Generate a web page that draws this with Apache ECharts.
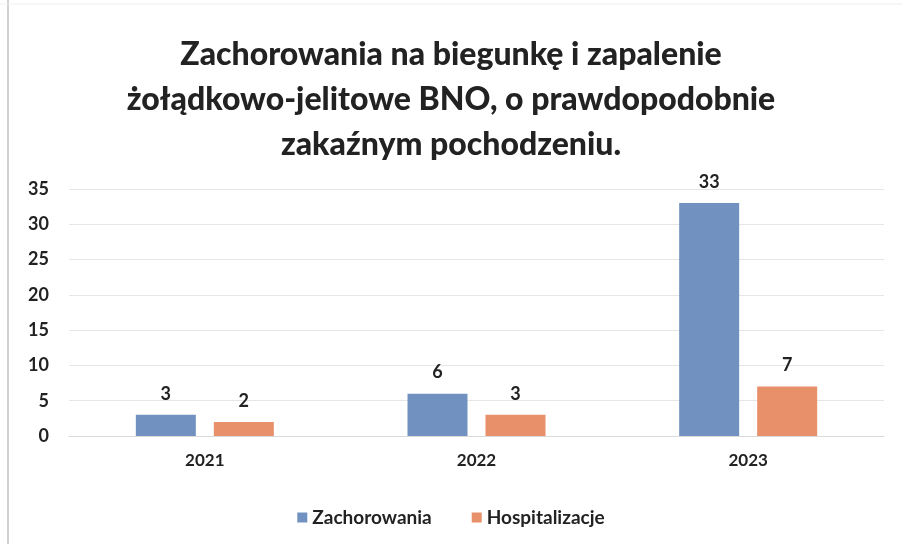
<!DOCTYPE html>
<html>
<head>
<meta charset="utf-8">
<script src="https://cdn.jsdelivr.net/npm/echarts@6/dist/echarts.min.js"></script>
<style>
  html, body { margin: 0; padding: 0; background: #fff; }
  #main { width: 902px; height: 544px; }
</style>
</head>
<body>
<div id="main"></div>
<script>
const years = ['2021', '2022', '2023'];
const zachorowania = [3, 6, 33];
const hospitalizacje = [2, 3, 7];
const yTicks = { min: 0, max: 35, step: 5 };

const font = 'Lato, "Open Sans", sans-serif';
const chart = echarts.init(document.getElementById('main'));

chart.setOption({
  animation: false,
  backgroundColor: '#ffffff',
  title: {
    text: 'Zachorowania na biegunkę i zapalenie\nżołądkowo-jelitowe BNO, o prawdopodobnie\nzakaźnym pochodzeniu.',
    left: 'center',
    top: 27,
    textStyle: {
      fontFamily: font,
      fontWeight: 900,
      fontSize: 32,
      lineHeight: 45,
      color: '#222'
    }
  },
  legend: {
    bottom: 12,
    left: 'center',
    itemWidth: 10,
    itemHeight: 10,
    itemGap: 40,
    icon: 'rect',
    textStyle: { fontFamily: font, fontSize: 19, fontWeight: 'bold', color: '#222' }
  },
  grid: { left: 69, right: 18, top: 189, bottom: 108 },
  xAxis: {
    type: 'category',
    data: years,
    axisTick: { show: false },
    axisLine: { lineStyle: { color: '#d9d9d9' } },
    axisLabel: { fontFamily: font, fontSize: 17, fontWeight: 'bold', color: '#222', margin: 16 }
  },
  yAxis: {
    type: 'value',
    min: yTicks.min,
    max: yTicks.max,
    interval: yTicks.step,
    axisLabel: { fontFamily: font, fontSize: 18, fontWeight: 'bold', color: '#222', margin: 20 },
    splitLine: { lineStyle: { color: '#e6e6e6' } }
  },
  series: [
    {
      name: 'Zachorowania',
      type: 'bar',
      data: zachorowania,
      barWidth: 60,
      barGap: '30%',
      itemStyle: { color: '#7192c0' },
      label: { show: true, position: 'top', distance: 12, fontFamily: font, fontSize: 18, fontWeight: 'bold', color: '#222' }
    },
    {
      name: 'Hospitalizacje',
      type: 'bar',
      data: hospitalizacje,
      barWidth: 60,
      itemStyle: { color: '#e8906a' },
      label: { show: true, position: 'top', distance: 12, fontFamily: font, fontSize: 18, fontWeight: 'bold', color: '#222' }
    }
  ],
  graphic: [
    { type: 'line', shape: { x1: 8, y1: 0, x2: 8, y2: 544 }, style: { stroke: '#d0d0d0', lineWidth: 2 } },
    { type: 'line', shape: { x1: 0, y1: 4, x2: 902, y2: 4 }, style: { stroke: '#eeeeee', lineWidth: 1 } }
  ]
});
</script>
</body>
</html>
